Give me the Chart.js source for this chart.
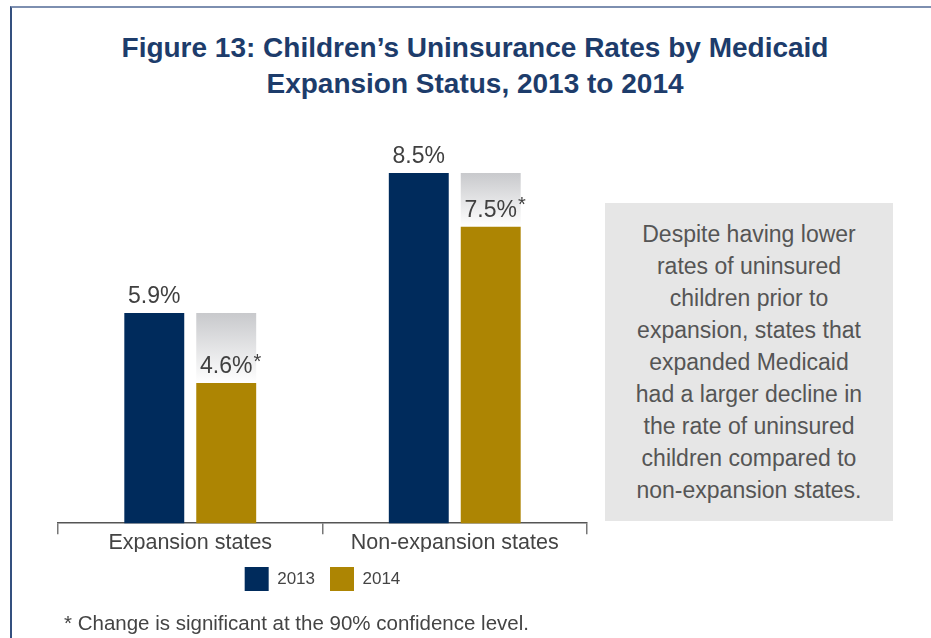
<!DOCTYPE html>
<html>
<head>
<meta charset="utf-8">
<script src="https://cdn.jsdelivr.net/npm/chart.js@4"></script>
<style>
  body { margin: 0; background: #fff; font-family: 'Liberation Sans', Arial, sans-serif; }
  #page { position: relative; width: 931px; height: 638px; overflow: hidden; }
  #frame { position: absolute; left: 10px; top: 6px; width: 940px; height: 660px;
           border-top: 2px solid #7d8fb0; border-left: 2px solid #34507f; }
  #title { position: absolute; left: 0; top: 30px; width: 950px; text-align: center;
           font-size: 28px; font-weight: bold; line-height: 36px; color: #1d3c6b; }
  #note { position: absolute; left: 605px; top: 203px; width: 288px; height: 318px;
          background: #e6e6e6; color: #555; font-size: 23px; line-height: 32px;
          text-align: center; box-sizing: border-box; padding-top: 15px; }
  #foot { position: absolute; left: 64px; top: 611px; font-size: 20.5px; color: #444; }
  #wrap { position: absolute; left: 0; top: 0; width: 931px; height: 638px; }
</style>
</head>
<body>
<div id="page">
  <div id="frame"></div>
  <div id="title">Figure 13: Children’s Uninsurance Rates by Medicaid<br>Expansion Status, 2013 to 2014</div>
  <div id="wrap"><canvas id="chart"></canvas></div>
  <div id="note">Despite having lower<br>rates of uninsured<br>children prior to<br>expansion, states that<br>expanded Medicaid<br>had a larger decline in<br>the rate of uninsured<br>children compared to<br>non-expansion states.</div>
  <div id="foot">* Change is significant at the 90% confidence level.</div>
</div>
<script>
// categories and values (percent uninsured)
const categories = ['Expansion states', 'Non-expansion states'];
const rates2013 = [5.9, 8.5];
const rates2014 = [4.6, 7.5];
const significant2014 = [true, true];

const navy = '#002b5c';
const gold = '#ad8503';

Chart.defaults.font.family = "'Liberation Sans', Arial, sans-serif";
Chart.defaults.animation = false;

// gray fade showing the drop from 2013 to 2014
function fadeFill(c) {
    const chart = c.chart;
    const y = chart.scales.y;
    const i = c.dataIndex;
    if (!y || i === undefined) return '#d0d0d3';
    const top = y.getPixelForValue(rates2013[i]);
    const bot = y.getPixelForValue(rates2014[i]);
    if (!isFinite(top) || !isFinite(bot) || top === bot) return '#d0d0d3';
    const g = chart.ctx.createLinearGradient(0, top, 0, bot);
    g.addColorStop(0, '#c8c9cc');
    g.addColorStop(1, '#ffffff');
    return g;
}

// value labels above bars
const valueLabels = {
    id: 'valueLabels',
    afterDatasetsDraw(chart) {
        const ctx = chart.ctx;
        ctx.save();
        ctx.fillStyle = '#404040';
        ctx.textBaseline = 'bottom';
        [0, 1].forEach(function(di) {
            const meta = chart.getDatasetMeta(di);
            const vals = chart.data.datasets[di].data;
            meta.data.forEach(function(bar, i) {
                const txt = vals[i].toFixed(1) + '%';
                ctx.font = "23px 'Liberation Sans', Arial, sans-serif";
                ctx.textAlign = 'center';
                ctx.fillText(txt, bar.x, bar.y - 5);
                if (di === 1 && significant2014[i]) {
                    const w = ctx.measureText(txt).width;
                    ctx.font = "20px 'Liberation Sans', Arial, sans-serif";
                    ctx.textAlign = 'left';
                    ctx.fillText('*', bar.x + w / 2 + 1, bar.y - 11);
                }
            });
        });
        ctx.restore();
    }
};

new Chart(document.getElementById('chart'), {
    type: 'bar',
    data: {
        labels: categories,
        datasets: [
            {
                label: '2013',
                data: rates2013,
                backgroundColor: navy,
                stack: 'a'
            },
            {
                label: '2014',
                data: rates2014,
                backgroundColor: gold,
                stack: 'b'
            },
            {
                label: 'change',
                data: rates2014.map((v, i) => [v, rates2013[i]]),
                backgroundColor: fadeFill,
                stack: 'b'
            }
        ]
    },
    options: {
        responsive: true,
        maintainAspectRatio: false,
        categoryPercentage: 0.544,
        barPercentage: 0.833,
        layout: {
            padding: { left: 58, right: 344, top: 146, bottom: 37 }
        },
        plugins: {
            title: { display: false },
            tooltip: { enabled: false },
            legend: {
                position: 'bottom',
                labels: {
                    boxWidth: 24,
                    boxHeight: 24,
                    padding: 15,
                    color: '#444',
                    font: { size: 17 },
                    filter: item => item.text !== 'change'
                }
            }
        },
        scales: {
            x: {
                stacked: true,
                border: { display: true, color: '#555', width: 1.5 },
                grid: {
                    offset: true,
                    drawOnChartArea: false,
                    drawTicks: true,
                    tickLength: 11,
                    color: '#777',
                    lineWidth: 1.5
                },
                ticks: {
                    color: '#444',
                    padding: -4,
                    font: { size: 21.5 }
                }
            },
            y: {
                display: false,
                stacked: false,
                min: 2,
                max: 9
            }
        }
    },
    plugins: [valueLabels]
});
</script>
</body>
</html>
